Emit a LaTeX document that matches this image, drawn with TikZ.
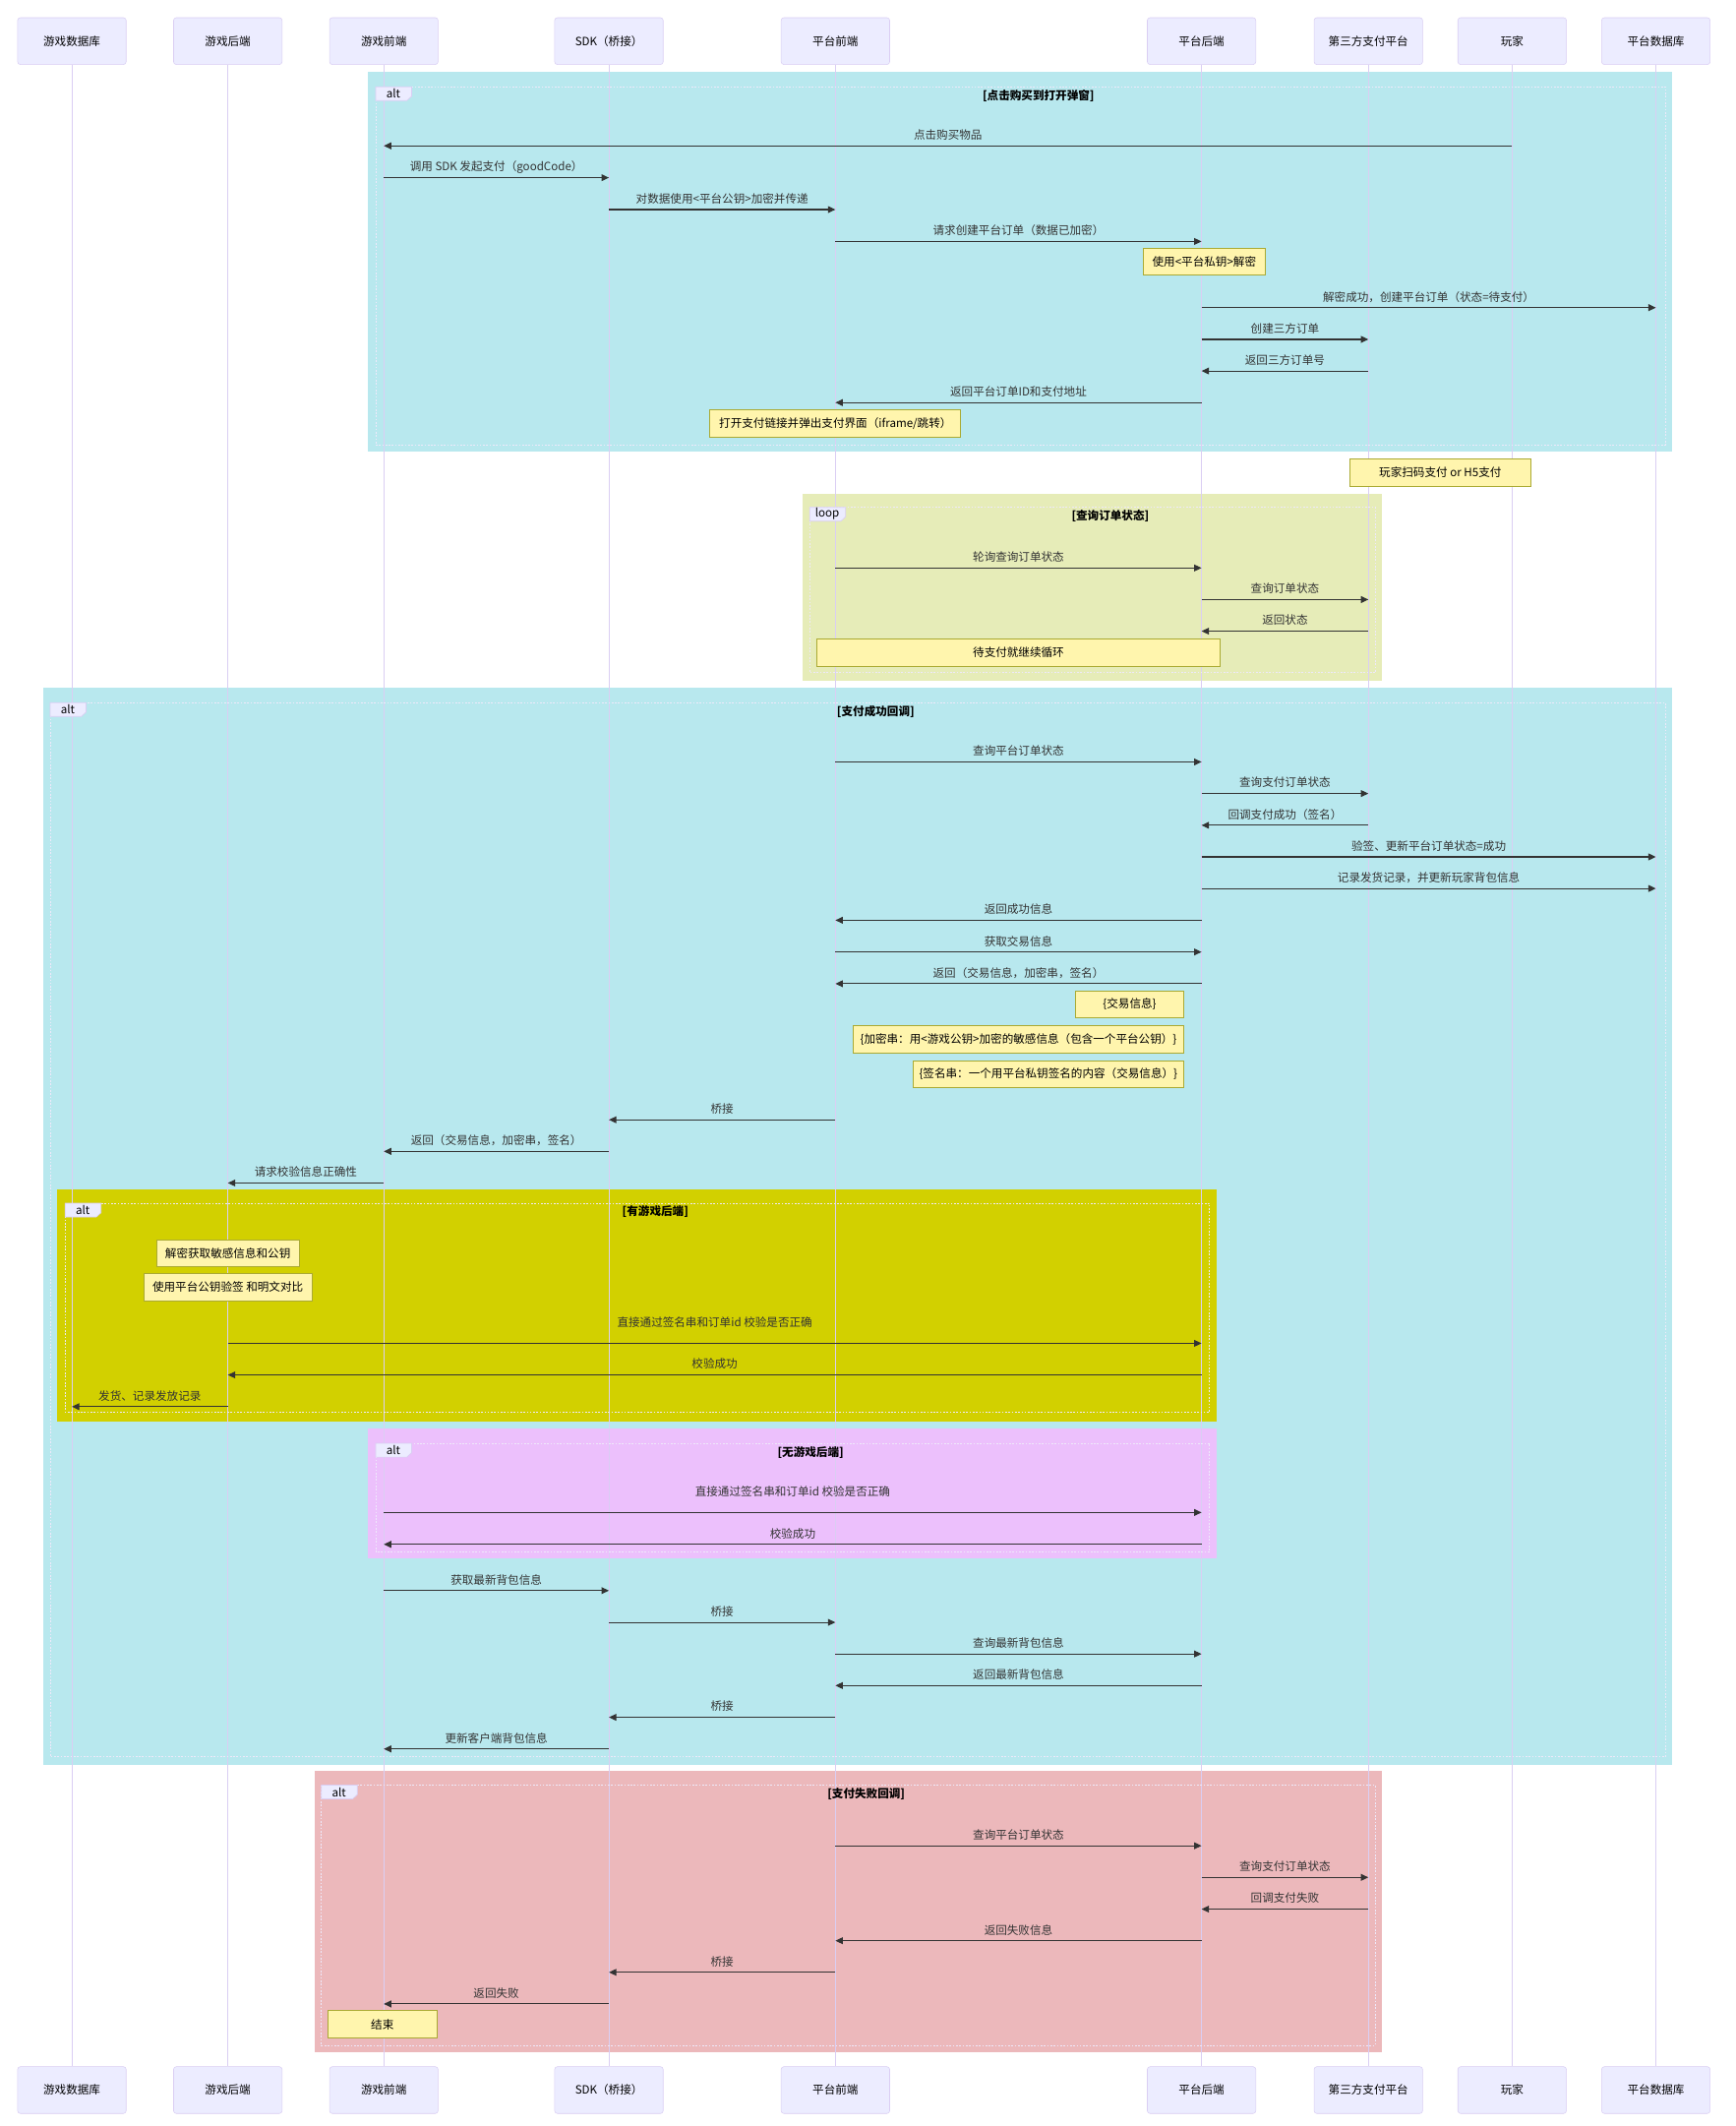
\documentclass[tikz,border=0pt]{standalone}
\usepackage{fontspec}
\setmainfont{Noto Sans CJK SC}
\usetikzlibrary{positioning,arrows.meta}
\definecolor{actorF}{HTML}{ECECFF}
\definecolor{lifeC}{HTML}{DACEF3}
\definecolor{noteF}{HTML}{FFF5AD}
\definecolor{noteD}{HTML}{AAAA33}
\definecolor{msgC}{HTML}{333333}
\definecolor{cyanB}{HTML}{B8E8EE}
\definecolor{loopB}{HTML}{E6ECB8}
\definecolor{oliveB}{HTML}{D2D000}
\definecolor{lilaB}{HTML}{ECC0FC}
\definecolor{failB}{HTML}{ECB8BB}
\tikzset{actor/.style={draw=lifeC, fill=actorF, rounded corners=2, minimum width=80, minimum height=34.5, inner sep=0, text=black, font=\fontsize{8.4}{10}\selectfont}}
\tikzset{life/.style={draw=lifeC, line width=0.7}}
\tikzset{msg/.style={draw=msgC, line width=0.8, -{Triangle[length=5.5pt,width=5pt]}}}
\tikzset{lbl/.style={text=msgC, inner sep=0, font=\fontsize{8.4}{10}\selectfont}}
\tikzset{note/.style={draw=noteD, fill=noteF, line width=0.6, minimum height=20, inner sep=0, text=black, font=\fontsize{8.4}{10}\selectfont}}
\tikzset{frline/.style={draw=white!55!lifeC, line width=0.6, dash pattern=on 1.2pt off 1.2pt}}
\tikzset{tagbox/.style={draw=lifeC, fill=actorF, line width=0.5}}
\tikzset{tagtxt/.style={inner sep=0, text=black, font=\fontsize{8.4}{10}\selectfont}}
\tikzset{ttl/.style={inner sep=0, text=black, font=\fontsize{8.4}{10}\selectfont\bfseries}}
\newcommand{\msg}[5][8]{\draw[msg] (#2 |- 0,#4) -- node[lbl,yshift=#1]{#5} (#3 |- 0,#4);}
\newcommand{\frtag}[7]{%
  \draw[frline] (#2,#3) rectangle (#4,#5);
  \filldraw[tagbox] (#2,#3) -- ++(26.5,0) -- ++(0,7) -- ++(-3.5,3.2) -- (#2,#3+10.2) -- cycle;
  \node[tagtxt] (#1-tag) at (#2+13,#3+5.1) {#6};
  \node[ttl] (#1-ttl) at ({(#2+26.5+#4)/2},#3+6.5) {#7};}
\begin{document}
\begin{tikzpicture}[x=1pt,y=-1pt]
\useasboundingbox (0,0) rectangle (1280,1567.3);
\fill[cyanB] (271,53) rectangle (1233,333);
\fill[loopB] (592,364) rectangle (1019,502);
\fill[cyanB] (32,507) rectangle (1233,1301);
\fill[oliveB] (42,877) rectangle (897,1048);
\fill[lilaB] (271,1053) rectangle (897,1149);
\fill[failB] (232,1305.5) rectangle (1019,1513);
\foreach \n/\x/\txt in {dbG/53/游戏数据库, beG/168/游戏后端, feG/283/游戏前端, sdk/449/SDK（桥接）, feP/616/平台前端, beP/886/平台后端, pay/1009/第三方支付平台, ply/1115/玩家, dbP/1221/平台数据库}{
  \node[actor] (\n) at (\x,30.3) {\txt};
  \node[actor] (\n-b) at (\x,1540.8) {\txt};
  \draw[life] (\n) -- (\n-b);
}
\frtag{fa}{277}{64}{1228}{328}{alt}{[点击购买到打开弹窗]}
\frtag{lp}{597}{374}{1014}{496}{loop}{[查询订单状态]}
\frtag{fb}{37}{518}{1228}{1295}{alt}{[支付成功回调]}
\frtag{fc}{48}{887}{892}{1041}{alt}{[有游戏后端]}
\frtag{fd}{277}{1064}{892}{1144}{alt}{[无游戏后端]}
\frtag{fe}{237}{1316}{1014}{1508}{alt}{[支付失败回调]}
\msg{ply}{feG}{107.5}{点击购买物品}
\msg{feG}{sdk}{131}{调用 SDK 发起支付（goodCode）}
\msg{sdk}{feP}{154.5}{对数据使用<平台公钥>加密并传递}
\msg{feP}{beP}{178}{请求创建平台订单（数据已加密）}
\node[note, minimum width=90] (n1) at (888,193) {使用<平台私钥>解密};
\msg{beP}{dbP}{226.8}{解密成功，创建平台订单（状态=待支付）}
\msg{beP}{pay}{250.2}{创建三方订单}
\msg{pay}{beP}{273.5}{返回三方订单号}
\msg{beP}{feP}{296.8}{返回平台订单ID和支付地址}
\node[note, minimum width=185] (n2) at (616,312) {打开支付链接并弹出支付界面（iframe/跳转）};
\node[note, minimum width=133] (n3) at (1062,348.5) {玩家扫码支付 or H5支付};
\msg{feP}{beP}{418.7}{轮询查询订单状态}
\msg{beP}{pay}{442}{查询订单状态}
\msg{pay}{beP}{465.3}{返回状态}
\node[note, minimum width=297] (n4) at (751,481) {待支付就继续循环};
\msg{feP}{beP}{561.7}{查询平台订单状态}
\msg{beP}{pay}{585}{查询支付订单状态}
\msg{pay}{beP}{608.4}{回调支付成功（签名）}
\msg{beP}{dbP}{631.7}{验签、更新平台订单状态=成功}
\msg{beP}{dbP}{655}{记录发货记录，并更新玩家背包信息}
\msg{beP}{feP}{678.4}{返回成功信息}
\msg{feP}{beP}{701.8}{获取交易信息}
\msg{beP}{feP}{725.2}{返回（交易信息，加密串，签名）}
\node[note, minimum width=80] (n5) at (833,740.5) {\{交易信息\}};
\node[note, minimum width=244] (n6) at (751,766) {\{加密串：用<游戏公钥>加密的敏感信息（包含一个平台公钥）\}};
\node[note, minimum width=200] (n7) at (773,792) {\{签名串：一个用平台私钥签名的内容（交易信息）\}};
\msg{feP}{sdk}{825.5}{桥接}
\msg{sdk}{feG}{848.8}{返回（交易信息，加密串，签名）}
\msg{feG}{beG}{872.1}{请求校验信息正确性}
\node[note, minimum width=105] (n8) at (168,924) {解密获取敏感信息和公钥};
\node[note, minimum width=124] (n9) at (168,949) {使用平台公钥验签 和明文对比};
\msg[15.5]{beG}{beP}{990.3}{直接通过签名串和订单id 校验是否正确}
\msg{beP}{beG}{1013.6}{校验成功}
\msg{beG}{dbG}{1037}{发货、记录发放记录}
\msg[15.5]{feG}{beP}{1115}{直接通过签名串和订单id 校验是否正确}
\msg{beP}{feG}{1138.5}{校验成功}
\msg{feG}{sdk}{1172.6}{获取最新背包信息}
\msg{sdk}{feP}{1196}{桥接}
\msg{feP}{beP}{1219.3}{查询最新背包信息}
\msg{beP}{feP}{1242.6}{返回最新背包信息}
\msg{feP}{sdk}{1266}{桥接}
\msg{sdk}{feG}{1289.3}{更新客户端背包信息}
\msg{feP}{beP}{1360.7}{查询平台订单状态}
\msg{beP}{pay}{1384}{查询支付订单状态}
\msg{pay}{beP}{1407.4}{回调支付失败}
\msg{beP}{feP}{1430.7}{返回失败信息}
\msg{feP}{sdk}{1454}{桥接}
\msg{sdk}{feG}{1477.3}{返回失败}
\node[note, minimum width=80] (n10) at (282,1492.3) {结束};
\end{tikzpicture}
\end{document}
